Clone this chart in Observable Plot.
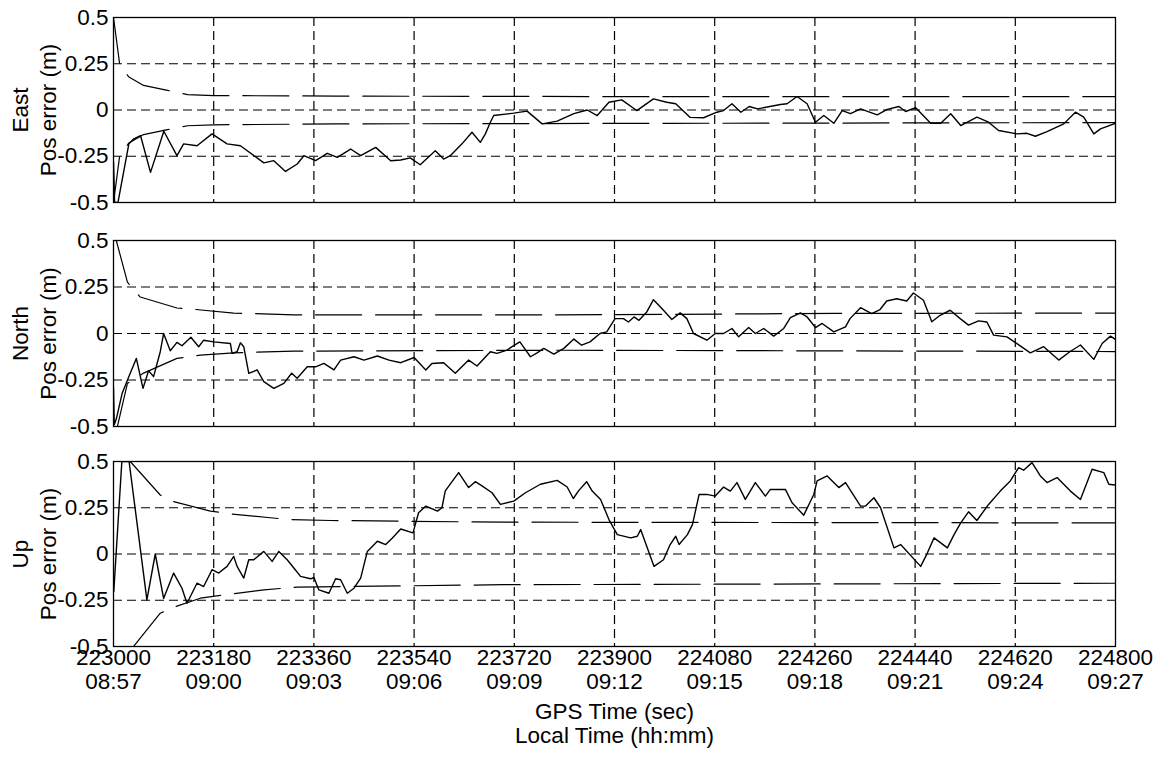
<!DOCTYPE html>
<html>
<head>
<meta charset="utf-8">
<script src="https://cdn.jsdelivr.net/npm/d3@7"></script>
<script src="https://cdn.jsdelivr.net/npm/@observablehq/plot@0.6"></script>
<style>
  body { margin: 0; background: #fff; }
  #chart { width: 1167px; height: 758px; }
  #chart svg { display: block; }
</style>
</head>
<body>
<div id="chart"></div>
<script>
// ---------- axis definitions ----------
const T0 = 223000;
const gpsTicks = [223000, 223180, 223360, 223540, 223720, 223900, 224080, 224260, 224440, 224620, 224800];
const localTicks = ["08:57", "09:00", "09:03", "09:06", "09:09", "09:12", "09:15", "09:18", "09:21", "09:24", "09:27"];
const yTicks = [-0.5, -0.25, 0, 0.25, 0.5];
const yTickLabels = ["-0.5", "-0.25", "0", "0.25", "0.5"];
const gridY = [-0.25, 0, 0.25];
const panelNames = ["East", "North", "Up"];
const yLabel = "Pos error (m)";
const xTitle1 = "GPS Time (sec)";
const xTitle2 = "Local Time (hh:mm)";

// ---------- data: [seconds since 223000, error (m)] ----------
const eastError = [
  [0,-0.28],[2,-0.5],[8,-0.5],[27.6,-0.183],[36.5,-0.156],[48.5,-0.138],[66.5,-0.337],[90.4,-0.115],
  [114,-0.247],[126,-0.183],[150,-0.193],[177,-0.129],[204,-0.183],[228,-0.193],[270,-0.286],[288,-0.274],
  [309,-0.332],[330,-0.292],[342,-0.247],[363,-0.274],[384,-0.234],[402,-0.256],[426,-0.211],[444,-0.247],
  [471,-0.202],[498,-0.274],[516,-0.27],[533,-0.259],[551,-0.296],[578,-0.22],[593,-0.265],[605,-0.247],
  [626,-0.183],[644,-0.12],[659,-0.175],[668,-0.129],[677,-0.066],[683,-0.03],[719,-0.017],[743,-0.006],
  [770,-0.075],[797,-0.06],[827,-0.02],[851,0.0],[869,-0.03],[890,0.042],[913,0.055],[940,-0.003],
  [970,0.06],[994,0.042],[1010,0.034],[1036,-0.04],[1060,-0.042],[1084,-0.012],[1096,-0.003],[1111,0.034],
  [1127,-0.012],[1142,0.019],[1157,0.006],[1198,0.03],[1210,0.034],[1228,0.073],[1246,0.034],[1261,-0.066],
  [1276,-0.03],[1294,-0.072],[1309,-0.003],[1324,-0.02],[1342,0.006],[1372,-0.026],[1390,0.003],[1411,0.019],
  [1423,-0.008],[1441,0.012],[1468,-0.072],[1486,-0.072],[1504,-0.02],[1522,-0.084],[1551,-0.039],[1572,-0.066],
  [1590,-0.111],[1623,-0.129],[1641,-0.126],[1656,-0.142],[1677,-0.117],[1707,-0.075],[1728,-0.012],[1743,-0.039],
  [1761,-0.129],[1773,-0.102],[1800,-0.072]
];
const eastUpper = [[0,0.5],[11,0.25],[27,0.18],[54,0.133],[97,0.106],[133,0.083],[180,0.078],[400,0.075],[1000,0.072],[1800,0.072]];
const eastLower = [[0,-0.5],[11,-0.25],[27,-0.18],[54,-0.133],[97,-0.106],[133,-0.085],[180,-0.08],[400,-0.075],[1000,-0.072],[1800,-0.068]];

const northError = [
  [0,-0.29],[1.4,-0.49],[5,-0.46],[15.6,-0.321],[27.5,-0.232],[41,-0.134],[53,-0.295],[63,-0.2],[72,-0.232],
  [84,-0.098],[90,0.0],[102,-0.093],[114,-0.048],[123,-0.066],[139,-0.02],[153,-0.071],[162,-0.036],[180,-0.045],
  [210,-0.054],[213,-0.107],[222,-0.098],[228,-0.05],[234,-0.071],[243,-0.214],[258,-0.196],[270,-0.259],
  [288,-0.295],[306,-0.268],[320,-0.214],[330,-0.241],[348,-0.179],[363,-0.179],[378,-0.161],[396,-0.196],
  [408,-0.143],[432,-0.125],[450,-0.143],[474,-0.121],[495,-0.143],[516,-0.157],[540,-0.129],[561,-0.196],
  [572,-0.161],[593,-0.157],[614,-0.214],[638,-0.143],[653,-0.175],[677,-0.098],[689,-0.107],[707,-0.089],
  [716,-0.071],[730,-0.045],[749,-0.125],[761,-0.104],[773,-0.08],[791,-0.111],[809,-0.08],[827,-0.03],
  [841,-0.063],[856,-0.045],[874,0.0],[886,0.009],[901,0.08],[916,0.08],[925,0.062],[935,0.089],[944,0.071],
  [958,0.116],[970,0.182],[988,0.125],[1003,0.075],[1018,0.111],[1030,0.08],[1042,0.0],[1066,-0.036],
  [1081,0.0],[1096,0.0],[1111,0.027],[1123,-0.018],[1141,0.032],[1153,0.0],[1168,0.027],[1186,-0.014],
  [1204,0.027],[1216,0.085],[1234,0.111],[1246,0.089],[1261,0.032],[1273,0.054],[1294,0.009],[1315,0.036],
  [1323,0.08],[1342,0.139],[1362,0.107],[1377,0.129],[1389,0.175],[1407,0.187],[1425,0.175],[1437,0.218],
  [1455,0.179],[1470,0.063],[1485,0.098],[1503,0.125],[1521,0.08],[1536,0.045],[1554,0.068],[1569,0.062],
  [1581,-0.009],[1605,-0.018],[1623,-0.054],[1647,-0.104],[1671,-0.071],[1698,-0.143],[1718,-0.098],
  [1737,-0.062],[1761,-0.139],[1776,-0.054],[1791,-0.014],[1800,-0.032]
];
const northUpper = [[5,0.5],[25,0.276],[48,0.196],[114,0.137],[144,0.13],[216,0.11],[324,0.1],[800,0.1],[1300,0.108],[1800,0.11]];
const northLower = [[7,-0.5],[25,-0.268],[54,-0.213],[114,-0.134],[156,-0.116],[216,-0.104],[324,-0.095],[800,-0.09],[1800,-0.097]];

const upError = [
  [0.5,-0.203],[15,0.5],[28,0.5],[60,-0.248],[75,0.0],[90,-0.24],[108,-0.103],[123,-0.185],[132,-0.266],
  [150,-0.158],[162,-0.176],[177,-0.085],[189,-0.103],[204,-0.067],[216,-0.013],[222,-0.067],[234,-0.13],
  [243,-0.031],[252,-0.031],[270,0.014],[285,-0.04],[297,0.014],[312,-0.031],[324,-0.076],[336,-0.121],
  [354,-0.134],[360,-0.127],[369,-0.194],[387,-0.212],[399,-0.134],[408,-0.139],[420,-0.212],[432,-0.185],
  [444,-0.13],[456,0.014],[474,0.069],[489,0.051],[501,0.087],[516,0.135],[538,0.114],[548,0.223],[561,0.259],
  [582,0.232],[590,0.25],[596,0.341],[620,0.44],[638,0.359],[650,0.391],[662,0.368],[680,0.331],[695,0.268],
  [719,0.286],[740,0.331],[767,0.377],[797,0.398],[815,0.362],[826,0.3],[836,0.344],[850,0.391],[860,0.34],
  [875,0.295],[890,0.186],[905,0.105],[929,0.087],[941,0.096],[947,0.132],[971,-0.067],[988,-0.031],
  [1000,0.051],[1010,0.096],[1016,0.051],[1031,0.105],[1040,0.159],[1052,0.322],[1066,0.322],[1081,0.313],
  [1096,0.362],[1108,0.34],[1120,0.386],[1135,0.295],[1153,0.386],[1171,0.313],[1180,0.349],[1207,0.349],
  [1219,0.277],[1240,0.21],[1258,0.322],[1264,0.395],[1282,0.422],[1303,0.359],[1315,0.386],[1342,0.259],
  [1351,0.259],[1366,0.304],[1378,0.25],[1402,0.033],[1414,0.051],[1450,-0.067],[1462,0.005],[1474,0.087],
  [1498,0.033],[1510,0.105],[1522,0.168],[1536,0.228],[1551,0.181],[1572,0.268],[1593,0.34],[1611,0.395],
  [1626,0.467],[1635,0.453],[1650,0.494],[1665,0.422],[1677,0.386],[1695,0.413],[1719,0.34],[1737,0.295],
  [1758,0.458],[1779,0.44],[1788,0.377],[1800,0.373]
];
const upUpper = [[30,0.5],[84,0.319],[108,0.283],[174,0.232],[210,0.217],[282,0.196],[312,0.187],[390,0.181],[700,0.172],[1800,0.168]];
const upLower = [[36,-0.5],[84,-0.32],[108,-0.288],[156,-0.239],[210,-0.217],[270,-0.194],[330,-0.179],[700,-0.166],[1800,-0.158]];

// ---------- drawing ----------
const FONT = "'Liberation Sans', Arial, Helvetica, sans-serif";
const FS = 22.5;
const toRows = a => a.map(([t, v]) => ({x: T0 + t, y: v}));

function panel(name, err, upper, lower, layout, bottom) {
  const marks = [
    Plot.ruleX(gpsTicks.slice(1, -1), {stroke: "black", strokeWidth: 1.2, strokeDasharray: "9,5"}),
    Plot.ruleY(gridY, {stroke: "black", strokeWidth: 1.2, strokeDasharray: "9,5"}),
    Plot.line(toRows(upper), {x: "x", y: "y", stroke: "black", strokeWidth: 1.2, strokeDasharray: "46,14", clip: true}),
    Plot.line(toRows(lower), {x: "x", y: "y", stroke: "black", strokeWidth: 1.2, strokeDasharray: "46,14", clip: true}),
    Plot.line(toRows(err), {x: "x", y: "y", stroke: "black", strokeWidth: 1.4, strokeLinejoin: "round", clip: true}),
    Plot.frame({stroke: "black", strokeWidth: 1.3}),
    Plot.text(yTicks, {y: d => d, text: (d, i) => yTickLabels[i], frameAnchor: "left", textAnchor: "end", dx: -5, fontSize: FS}),
    Plot.text([name], {frameAnchor: "left", textAnchor: "middle", lineAnchor: "middle", rotate: -90, dx: -93, fontSize: FS}),
    Plot.text([yLabel], {frameAnchor: "left", textAnchor: "middle", lineAnchor: "middle", rotate: -90, dx: -65, fontSize: FS})
  ];
  if (bottom) {
    marks.push(
      Plot.text(gpsTicks, {x: d => d, text: d => String(d), frameAnchor: "bottom", dy: 18, fontSize: FS}),
      Plot.text(gpsTicks, {x: d => d, text: (d, i) => localTicks[i], frameAnchor: "bottom", dy: 42, fontSize: FS}),
      Plot.text([xTitle1], {frameAnchor: "bottom", dy: 72, fontSize: FS}),
      Plot.text([xTitle2], {frameAnchor: "bottom", dy: 96, fontSize: FS})
    );
  }
  return Plot.plot({
    width: 1167,
    height: layout.height,
    marginLeft: 113,
    marginRight: 52,
    marginTop: layout.top,
    marginBottom: layout.bottom,
    x: {domain: [223000, 224800], axis: null},
    y: {domain: [-0.5, 0.5], axis: null},
    style: {fontFamily: FONT, fontSize: FS + "px", color: "black", background: "white", overflow: "visible"},
    marks
  });
}

const chart = document.getElementById("chart");
chart.append(panel(panelNames[0], eastError, eastUpper, eastLower, {height: 221, top: 17, bottom: 19}, false));
chart.append(panel(panelNames[1], northError, northUpper, northLower, {height: 221, top: 19, bottom: 16}, false));
chart.append(panel(panelNames[2], upError, upUpper, upLower, {height: 316, top: 19, bottom: 112}, true));
</script>
</body>
</html>
